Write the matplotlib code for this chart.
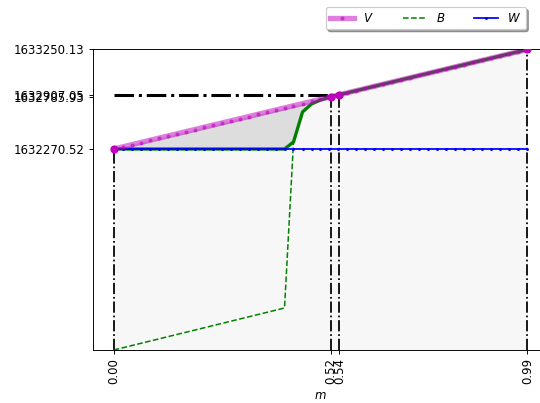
import numpy as np
import matplotlib
matplotlib.use("Agg")
import matplotlib.pyplot as plt

# grid of m
m=[0.0000,0.0215,0.0430,0.0646,0.0861,0.1076,0.1291,0.1507,0.1722,0.1937,
   0.2152,0.2367,0.2583,0.2798,0.3013,0.3228,0.3443,0.3659,0.3874,0.4089,
   0.4304,0.4520,0.4735,0.4950,0.5165,0.5380,0.5596,0.5811,0.6026,0.6241,
   0.6457,0.6672,0.6887,0.7102,0.7317,0.7533,0.7748,0.7963,0.8178,0.8393,
   0.8609,0.8824,0.9039,0.9254,0.9470,0.9685,0.9900]

# value V
V=[1632270.52,1632291.82,1632313.11,1632334.41,1632355.70,1632377.00,1632398.29,1632419.59,1632440.88,1632462.18,
   1632483.48,1632504.77,1632526.07,1632547.36,1632568.66,1632589.95,1632611.25,1632632.55,1632653.84,1632675.14,
   1632696.43,1632717.73,1632739.02,1632760.32,1632781.61,1632802.91,1632824.21,1632845.50,1632866.80,1632888.09,
   1632909.39,1632930.68,1632951.98,1632973.27,1632994.57,1633015.87,1633037.16,1633058.46,1633079.75,1633101.05,
   1633122.34,1633143.64,1633164.93,1633186.23,1633207.53,1633228.82,1633250.13]

# B
B=[1630291.60,1630313.36,1630335.12,1630356.88,1630378.64,1630400.40,1630422.16,1630443.92,1630465.68,1630487.44,
   1630509.20,1630530.96,1630552.72,1630574.48,1630596.24,1630618.00,1630639.76,1630661.52,1630683.28,1630705.04,
   1632339.40,1632634.80,1632713.50,1632752.90,1632779.50,1632802.91,1632824.21,1632845.50,1632866.80,1632888.09,
   1632909.39,1632930.68,1632951.98,1632973.27,1632994.57,1633015.87,1633037.16,1633058.46,1633079.75,1633101.05,
   1633122.34,1633143.64,1633164.93,1633186.23,1633207.53,1633228.82,1633250.13]

# W (flat)
W=[1632270.52]*len(m)

# key points
mk=[0.00,0.52,0.54,0.99]
Vk=[1632270.52,1632785.06,1632804.85,1633250.13]
ytk=[1632270.52,1632785.06,1632804.85,1633250.13]
ytl=["1632270.52","1632785.93","1632907.05","1633250.13"]
xtl=["0.00","0.52","0.54","0.99"]

# figure
f0=plt.figure(figsize=(6.4,4.7763),dpi=84.375)
ax0=f0.add_axes([0.1722,0.1315,0.8426,0.7457])

m=np.array(m);V=np.array(V);B=np.array(B);W=np.array(W)
ymin=B[0]
BW=np.maximum(B,W)

# shaded areas
ax0.fill_between(m,ymin,V,color='#f7f7f7',lw=0)
ax0.fill_between(m,BW,V,color='#dddddd',lw=0)

# guide lines
for i0 in range(len(mk)):
    ax0.plot([mk[i0],mk[i0]],[ymin,Vk[i0]],color='k',ls='-.',lw=1.5)
ax0.plot([0,mk[2]],[Vk[2],Vk[2]],color='k',ls='-.',lw=2.6)

# curves
ax0.plot(m,BW,color='g',lw=2.8)
l1,=ax0.plot(m,B,color='g',ls='--',lw=1.3,label=r'$B$')
l2,=ax0.plot(m,W,color='b',lw=1.5,marker='.',markersize=3,label=r'$W$')
l0,=ax0.plot(m,V,color='m',lw=4.5,alpha=0.5,marker='.',markersize=5,label=r'$V$')
ax0.plot(mk,Vk,'o',color='m',markersize=6,zorder=5)

ax0.set_ylim([ymin,V[-1]])
ax0.set_xticks(mk);ax0.set_xticklabels(xtl,rotation=90)
ax0.set_yticks(ytk);ax0.set_yticklabels(ytl)
ax0.set_xlabel(r'$m$')

ax0.legend(handles=[l0,l1,l2],ncol=3,shadow=True,loc='upper right',
           bbox_to_anchor=(0.9516,1.1414),borderaxespad=0,columnspacing=2.5)

f0.savefig("out.png",dpi=84.375)
